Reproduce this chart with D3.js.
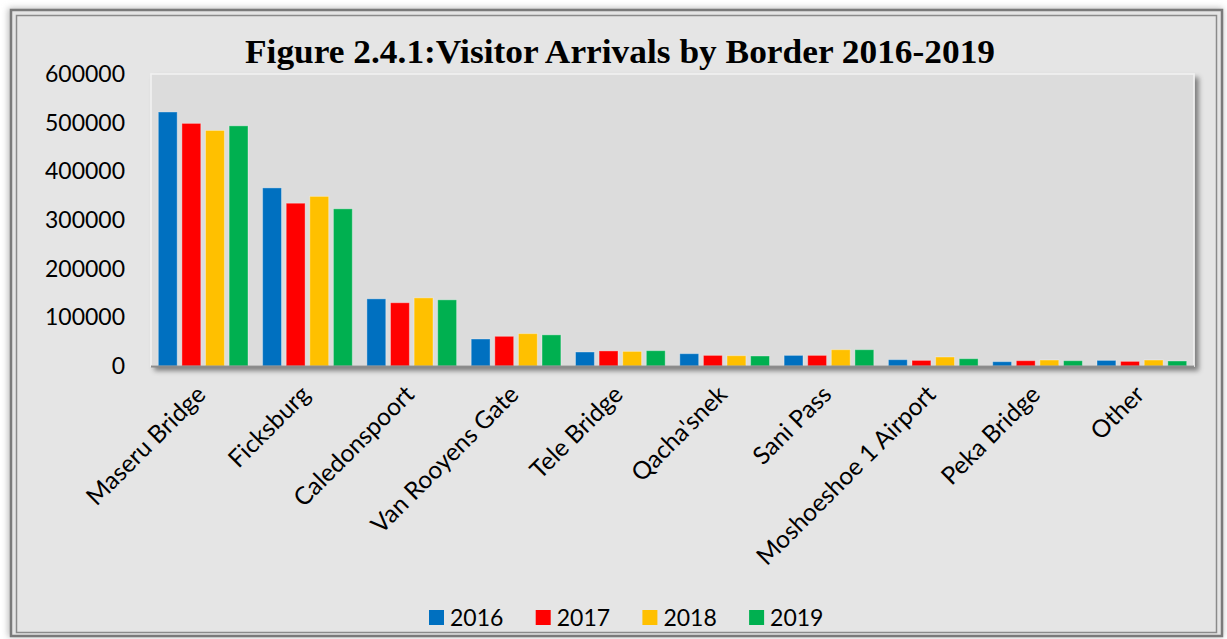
<!DOCTYPE html>
<head>
<meta charset="utf-8">
<title>Visitor Arrivals by Border 2016-2019</title>
<style>
    body {
        margin: 0;
        background: #ffffff;
    }

    .axis text {
        fill: #000;
        font: 23px Lato, "Liberation Sans", sans-serif;
    }

    .axis--x text {
        font-size: 24.5px;
    }

    .axis path,
    .axis line {
        display: none;
    }

    .title {
        font: bold 33px "Liberation Serif", "DejaVu Serif", serif;
        text-anchor: middle;
    }

    .legend text {
        font: 23px Lato, "Liberation Sans", sans-serif;
    }

    .bar {
        stroke: rgba(255, 255, 255, 0.35);
        stroke-width: 1px;
    }
</style>
</head>
<body>
<svg></svg>
<script src="https://cdn.jsdelivr.net/npm/d3@7"></script>
<script>

    // data
    var borders = ["Maseru Bridge", "Ficksburg", "Caledonspoort", "Van Rooyens Gate", "Tele Bridge",
        "Qacha'snek", "Sani Pass", "Moshoeshoe 1 Airport", "Peka Bridge", "Other"];
    var years = ["2016", "2017", "2018", "2019"];
    var v2016 = [522000, 366000, 138000, 55500, 28800, 25300, 21800, 13000, 8900, 11500];
    var v2017 = [498500, 334500, 130000, 61000, 31000, 21800, 21800, 11500, 10900, 9500];
    var v2018 = [484000, 348500, 140000, 66500, 30000, 21200, 33500, 18500, 12300, 12300];
    var v2019 = [493500, 323000, 136000, 64000, 31500, 20600, 33500, 15000, 10900, 10300];
    var yTicks = [0, 100000, 200000, 300000, 400000, 500000, 600000];
    var colors = ["#0070C0", "#FF0000", "#FFC000", "#00B050"];

    var seriesValues = [v2016, v2017, v2018, v2019];

    var W = 1227, H = 639;

    var svg = d3.select("svg")
        .attr("width", W)
        .attr("height", H);

    var defs = svg.append("defs");

    var shadow = defs.append("filter")
        .attr("id", "shadow")
        .attr("x", "-5%").attr("y", "-5%")
        .attr("width", "110%").attr("height", "120%");
    shadow.append("feDropShadow")
        .attr("dx", 4).attr("dy", 4)
        .attr("stdDeviation", 2.5)
        .attr("flood-color", "#000")
        .attr("flood-opacity", 0.45);

    var frameShadow = defs.append("filter")
        .attr("id", "frameShadow")
        .attr("x", "-5%").attr("y", "-5%")
        .attr("width", "110%").attr("height", "110%");
    frameShadow.append("feGaussianBlur")
        .attr("stdDeviation", 3);

    // outer blur / frame
    svg.append("rect")
        .attr("x", 8).attr("y", 8)
        .attr("width", W - 12).attr("height", H - 10)
        .attr("fill", "#bdbdbd")
        .attr("filter", "url(#frameShadow)");

    svg.append("rect")
        .attr("x", 11).attr("y", 10)
        .attr("width", 1211).attr("height", 626)
        .attr("fill", "#e4e4e4")
        .attr("stroke", "#7a7a7a")
        .attr("stroke-width", 2.5);

    svg.append("rect")
        .attr("x", 16.5).attr("y", 15.5)
        .attr("width", 1200).attr("height", 617)
        .attr("fill", "#e5e5e5")
        .attr("stroke", "#8a8a8a")
        .attr("stroke-width", 1.5);

    var margin = {top: 74, left: 151},
        width = 1194 - 151,
        height = 366 - 74;

    svg.append("text")
        .attr("class", "title")
        .attr("x", 620)
        .attr("y", 63)
        .attr("textLength", 750)
        .attr("lengthAdjust", "spacingAndGlyphs")
        .text("Figure 2.4.1:Visitor Arrivals by Border 2016-2019");

    var g = svg.append("g")
        .attr("transform", "translate(" + margin.left + "," + margin.top + ")");

    // plot area
    g.append("rect")
        .attr("width", width)
        .attr("height", height)
        .attr("fill", "#dcdcdc")
        .attr("stroke", "#f2f2f2")
        .attr("stroke-width", 1.5)
        .attr("filter", "url(#shadow)");

    var x0 = d3.scaleBand()
        .domain(borders)
        .range([0, width]);

    var x1 = d3.scaleBand()
        .domain(years)
        .range([7.3, x0.bandwidth() - 7.3])
        .paddingInner(0.2);

    var y = d3.scaleLinear()
        .domain([0, 600000])
        .range([height, 0]);

    var group = g.selectAll(".border")
        .data(borders)
        .enter().append("g")
        .attr("class", "border")
        .attr("transform", function (d) {
            return "translate(" + x0(d) + ",0)";
        });

    group.selectAll("rect")
        .data(function (d, i) {
            return years.map(function (yr, j) {
                return {year: yr, value: seriesValues[j][i], color: colors[j]};
            });
        })
        .enter().append("rect")
        .attr("class", "bar")
        .attr("x", function (d) {
            return x1(d.year);
        })
        .attr("y", function (d) {
            return y(d.value);
        })
        .attr("width", x1.bandwidth())
        .attr("height", function (d) {
            return height - y(d.value);
        })
        .attr("fill", function (d) {
            return d.color;
        });

    // baseline
    g.append("line")
        .attr("x1", 0).attr("x2", width)
        .attr("y1", height + 0.5).attr("y2", height + 0.5)
        .attr("stroke", "#8c8c8c")
        .attr("stroke-width", 2);

    g.append("g")
        .attr("class", "axis axis--y")
        .call(d3.axisLeft(y).tickValues(yTicks).tickFormat(d3.format("d")).tickSize(0).tickPadding(26));

    var xAxis = g.append("g")
        .attr("class", "axis axis--x")
        .attr("transform", "translate(0," + height + ")")
        .call(d3.axisBottom(x0).tickSize(0).tickPadding(0));

    xAxis.selectAll("text")
        .attr("dy", 0)
        .attr("y", 0)
        .attr("x", 0)
        .style("text-anchor", "end")
        .attr("transform", "translate(4,30) rotate(-45)");

    // legend
    var legend = svg.append("g")
        .attr("class", "legend")
        .selectAll("g")
        .data(years)
        .enter().append("g")
        .attr("transform", function (d, i) {
            return "translate(" + (429 + i * 106.7) + ",610)";
        });

    legend.append("rect")
        .attr("width", 15)
        .attr("height", 15)
        .attr("fill", function (d, i) {
            return colors[i];
        });

    legend.append("text")
        .attr("x", 21)
        .attr("y", 16)
        .text(function (d) {
            return d;
        });
</script>
</body>
